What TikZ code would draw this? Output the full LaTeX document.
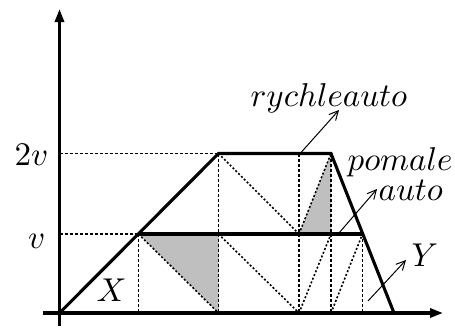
\documentclass[tikz,border=0pt]{standalone}
\usetikzlibrary{arrows.meta}
\begin{document}
\begin{tikzpicture}[x=1pt,y=-1pt,
  thickline/.style={line width=3.1pt,line join=miter},
  axisline/.style={line width=3.1pt,-{Triangle[length=13pt,width=9pt]}},
  vdash/.style={line width=1.6pt,dash pattern=on 3pt off 2pt},
  ddot/.style={line width=1.6pt,dash pattern=on 2pt off 2pt},
  thinarrow/.style={line width=1pt,-{Straight Barb[length=9pt,width=9pt,line width=1pt]}},
  shade/.style={fill=black!25},
  lbl/.style={inner sep=0pt,scale=3.3}]
\useasboundingbox (0,0) rectangle (455,327);
% points
\coordinate (O) at (59.5,313);
\coordinate (A) at (138.5,234);
\coordinate (B) at (218.5,153.5);
\coordinate (C) at (331,153.5);
\coordinate (D) at (362.5,234);
\coordinate (E) at (394,313);
\coordinate (K) at (218.5,234);
\coordinate (L) at (218.5,313);
\coordinate (M) at (138.5,313);
\coordinate (F) at (299,234);
\coordinate (G) at (299,153.5);
\coordinate (H) at (299,313);
\coordinate (I) at (331,234);
\coordinate (J) at (331,313);
\coordinate (N) at (362.5,313);
\coordinate (Yv) at (59.5,234);
\coordinate (Y2v) at (59.5,153.5);
\coordinate (axT) at (59.5,9);
\coordinate (axB) at (59.5,326);
\coordinate (axL) at (43,313);
\coordinate (axR) at (443,313);
% shading
\fill[shade] (A) -- (K) -- (L) -- cycle;
\fill[shade] (F) -- (C) -- (I) -- cycle;
% dashed guides
\draw[vdash] (Y2v) -- (B);
\draw[vdash] (Yv) -- (A);
\draw[vdash] (A) -- (M);
\draw[vdash] (B) -- (L);
\draw[vdash] (G) -- (H);
\draw[vdash] (C) -- (J);
\draw[vdash] (D) -- (N);
% dotted diagonals
\draw[ddot] (A) -- (L);
\draw[ddot] (B) -- (F);
\draw[ddot] (K) -- (H);
\draw[ddot] (F) -- (C);
\draw[ddot] (H) -- (I);
\draw[ddot] (J) -- (D);
% thick
\draw[thickline] (O) -- (B) -- (C) -- (E);
\draw[thickline] (A) -- (D);
% axes
\draw[axisline] (axB) -- (axT);
\draw[axisline] (axL) -- (axR);
% thin arrows
\coordinate (r1) at (301.5,152);
\coordinate (r2) at (339,110);
\coordinate (p1) at (339,233);
\coordinate (p2) at (377,189);
\coordinate (y1) at (368,301);
\coordinate (y2) at (406,260);
\draw[thinarrow] (r1) -- (r2);
\draw[thinarrow] (p1) -- (p2);
\draw[thinarrow] (y1) -- (y2);
% labels
\node[lbl,anchor=base west] (trych) at (250,106.5) {$rychleauto$};
\node[lbl,anchor=base west] (tpom) at (347,170) {$pomale$};
\node[lbl,anchor=base west] (tauto) at (378,200) {$auto$};
\node[lbl,anchor=base west] (tY) at (411,266) {$Y$};
\node[lbl,anchor=base west] (tX) at (96,301.5) {$X$};
\node[lbl,anchor=base east] (t2v) at (49,165) {$2v$};
\node[lbl,anchor=base east] (tv) at (46,248) {$v$};
\end{tikzpicture}
\end{document}
